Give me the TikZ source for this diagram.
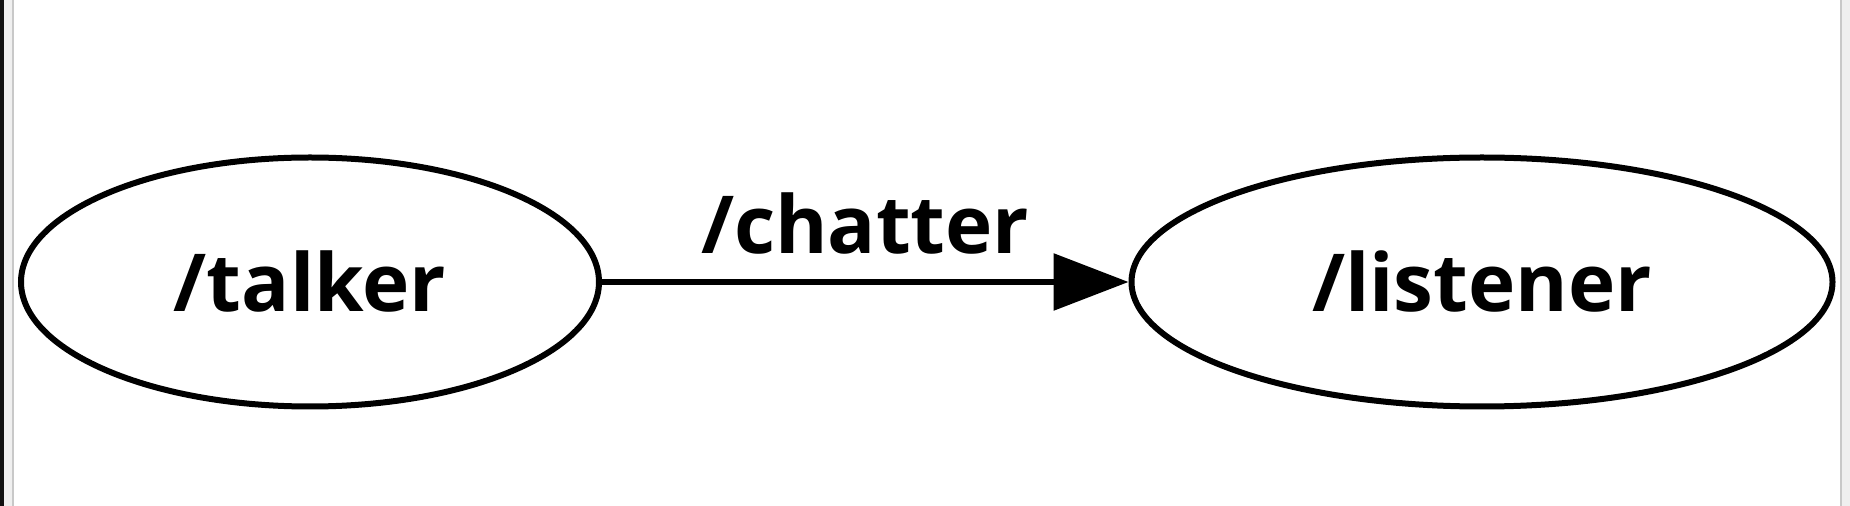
\documentclass[tikz,border=0pt]{standalone}
\usepackage{fontspec}
\setmainfont{Open Sans}
\usetikzlibrary{shapes.geometric,arrows.meta}
\definecolor{FrameClr}{RGB}{239,239,239}
\definecolor{FrameLineClr}{RGB}{200,200,200}
\definecolor{BarClr}{RGB}{17,17,17}

\begin{document}
\begin{tikzpicture}[x=1pt,y=1pt,
  rosnode/.style={ellipse,draw=black,line width=6pt,inner sep=0pt,
    minimum height=249pt,font=\fontsize{80}{96}\selectfont\bfseries},
  rostopic/.style={line width=6pt,-{Triangle[length=75pt,width=56pt]}},
  topiclabel/.style={font=\fontsize{80}{96}\selectfont\bfseries,inner sep=0pt}]
\useasboundingbox (0,0) rectangle (1850,506);

% window frame
\fill[FrameClr] (0,0) rectangle (13,506);
\fill[BarClr] (0,0) rectangle (4,506);
\fill[FrameLineClr] (12,0) rectangle (14,506);
\fill[FrameClr] (1840,0) rectangle (1850,506);
\fill[FrameLineClr] (1840,0) rectangle (1842,506);

% nodes
\node[rosnode,minimum width=578pt] (talker) at (310,224) {/talker};
\node[rosnode,minimum width=701pt] (listener) at (1482,224) {/listener};

% topic
\draw[rostopic] (talker) -- node[topiclabel,midway,above=25pt] (chatter) {/chatter} (listener);

\end{tikzpicture}
\end{document}
